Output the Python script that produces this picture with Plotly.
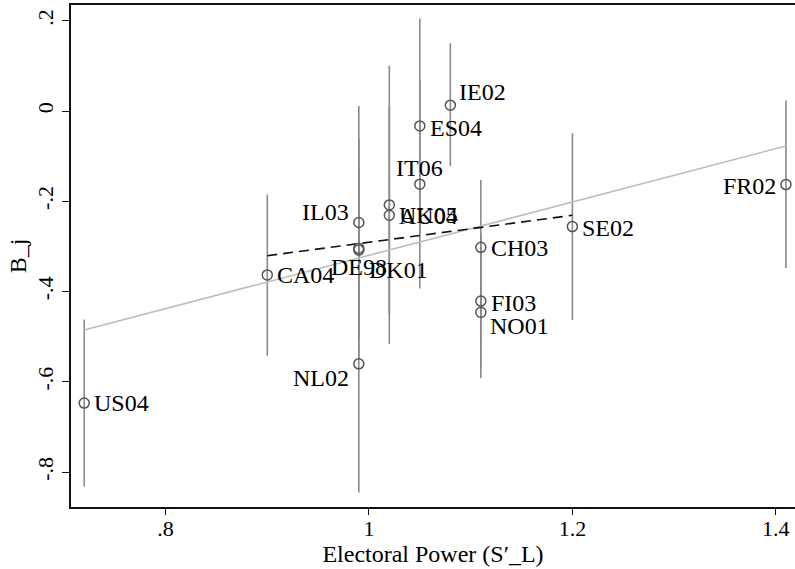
import plotly.graph_objects as go

# ---- data ----
codes = ["US04", "CA04", "IL03", "DE98", "DK01", "NL02", "UK05", "AU04",
         "ES04", "IT06", "IE02", "CH03", "FI03", "NO01", "SE02", "FR02"]
power = [0.72, 0.90, 0.99, 0.99, 0.99, 0.99, 1.02, 1.02,
         1.05, 1.05, 1.08, 1.11, 1.11, 1.11, 1.20, 1.41]
bj = [-0.647, -0.363, -0.247, -0.304, -0.308, -0.560, -0.208, -0.231,
      -0.033, -0.162, 0.013, -0.302, -0.421, -0.446, -0.256, -0.163]
ci_lo = [-0.832, -0.542, -0.505, -0.550, -0.500, -0.845, -0.516, -0.450,
         -0.271, -0.393, -0.122, -0.451, -0.571, -0.592, -0.463, -0.348]
ci_hi = [-0.462, -0.185, 0.011, -0.060, -0.120, -0.275, 0.100, 0.010,
         0.205, 0.069, 0.150, -0.153, -0.271, -0.300, -0.049, 0.023]

fit_x = [0.72, 1.41]
fit_y = [-0.485, -0.0775]
sub_x = [0.90, 1.20]
sub_y = [-0.3205, -0.231]

x_tickvals = [0.8, 1.0, 1.2, 1.4]
x_ticktext = [".8", "1", "1.2", "1.4"]
y_tickvals = [0.2, 0.0, -0.2, -0.4, -0.6, -0.8]
y_ticktext = [".2", "0", "-.2", "-.4", "-.6", "-.8"]

# label placement style: (xanchor, xshift, yshift)
label_style = {
    "US04": ("left", 8, 0), "CA04": ("left", 8, 0),
    "IL03": ("right", -8, 11), "DE98": ("center", 0, -19),
    "DK01": ("left", 8, -20), "NL02": ("right", -8, -14),
    "UK05": ("left", 8, -10), "AU04": ("left", 8, -1),
    "ES04": ("left", 8, -2), "IT06": ("center", 0, 16),
    "IE02": ("left", 7, 13), "CH03": ("left", 8, -1),
    "FI03": ("left", 8, -2), "NO01": ("left", 7, -14),
    "SE02": ("left", 8, -1), "FR02": ("right", -8, -1),
}

FONT = "Liberation Serif"

fig = go.Figure()

# confidence spikes
fig.add_trace(go.Scatter(
    x=power, y=bj, mode="markers",
    marker=dict(size=1, color="rgba(0,0,0,0)"),
    error_y=dict(type="data", symmetric=False,
                 array=[h - v for h, v in zip(ci_hi, bj)],
                 arrayminus=[v - l for l, v in zip(ci_lo, bj)],
                 width=0, thickness=1.6, color="#8a8a8a"),
    hoverinfo="skip", showlegend=False, cliponaxis=False))

# full-sample fit
fig.add_trace(go.Scatter(x=fit_x, y=fit_y, mode="lines",
                         line=dict(color="#bdbdbd", width=1.6),
                         showlegend=False))
# subsample fit
fig.add_trace(go.Scatter(x=sub_x, y=sub_y, mode="lines",
                         line=dict(color="#111111", width=1.6, dash="10px,6px"),
                         showlegend=False))

# points
fig.add_trace(go.Scatter(
    x=power, y=bj, mode="markers", cliponaxis=False,
    marker=dict(symbol="circle-open", size=10, color="#555555",
                line=dict(width=1.5, color="#555555")),
    text=codes, showlegend=False))

for c, xv, yv in zip(codes, power, bj):
    xa, xs, ys = label_style[c]
    fig.add_annotation(x=xv, y=yv, text=c, showarrow=False,
                       xanchor=xa, yanchor="middle", xshift=xs, yshift=ys,
                       font=dict(family=FONT, size=24, color="#000000"))

fig.update_layout(
    width=795, height=569,
    margin=dict(l=71, r=0, t=5, b=62),
    paper_bgcolor="white", plot_bgcolor="white",
    font=dict(family=FONT, size=22, color="#000000"),
    xaxis=dict(range=[0.7070, 1.4189], tickvals=x_tickvals, ticktext=x_ticktext,
               automargin=False,
               showgrid=False, zeroline=False, showline=True, linecolor="#111111",
               linewidth=1.6, mirror=True, ticks="outside", ticklen=6,
               tickcolor="#111111", tickwidth=1.2, ticklabelstandoff=-5,
               tickfont=dict(family=FONT, size=22),
               title=dict(text="Electoral Power (S\u2032_L)",
                          font=dict(family=FONT, size=24), standoff=0)),
    yaxis=dict(range=[-0.8771, 0.2348], tickvals=y_tickvals, ticktext=y_ticktext,
               automargin=False,
               showgrid=False, zeroline=False, showline=True, linecolor="#111111",
               linewidth=1.6, ticks="outside", ticklen=7,
               tickcolor="#111111", tickwidth=1.2, tickangle=-90,
               tickfont=dict(family=FONT, size=22),
               title=dict(text="B_j", font=dict(family=FONT, size=24), standoff=0)),
)

fig.write_html("out.html", config={"displayModeBar": False},
               post_script="document.body.style.margin='0';"
                           "document.body.style.overflow='hidden';")
